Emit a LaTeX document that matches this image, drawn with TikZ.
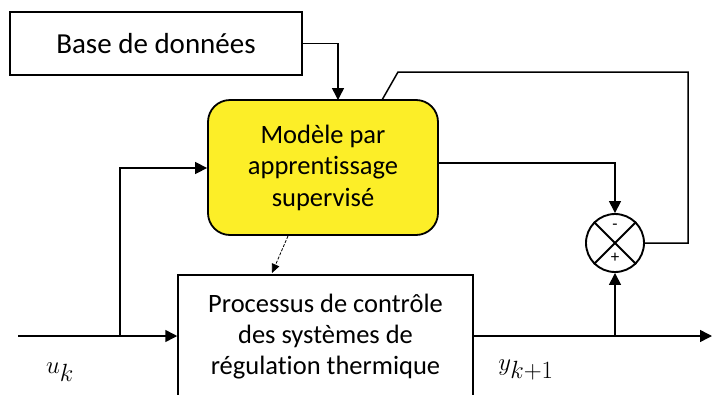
\documentclass[tikz,border=0pt]{standalone}
\usepackage{fontspec}
\setmainfont{Carlito}[Ligatures=NoCommon]
\usepackage{amsmath}
\usepackage{tikz}
\usepackage{xcolor}
\usetikzlibrary{arrows.meta}
\definecolor{modelyellow}{RGB}{252,238,40}
\tikzset{
    plain-box/.style = {draw=black, fill=white, line width=1.5pt, rectangle, inner sep=0pt, align=center},
    model-box/.style = {draw=black, fill=modelyellow, line width=1.8pt, rectangle, rounded corners=22pt, inner sep=0pt, align=center},
    sum-node/.style = {draw=black, circle, line width=1.9pt, minimum size=58pt, inner sep=0pt},
    flow-arrow/.style = {line width=1.5pt, -{Triangle[length=12pt,width=12pt]}},
    flow-line/.style = {line width=1.5pt},
    hint-arrow/.style = {line width=0.8pt, dashed, dash pattern=on 3pt off 1.5pt, -{Triangle[length=9pt,width=8pt]}},
    signal-label/.style = {font=\fontsize{33}{33}\selectfont},
}

\begin{document}
\begin{tikzpicture}[x=1pt,y=-1pt]
\useasboundingbox (0,0) rectangle (712,394);
\node [plain-box, minimum width=292pt, minimum height=63pt, font=\fontsize{29}{34}\selectfont] (base) at (156,43.5) {Base de donn\'ees};
\node [model-box, minimum width=230pt, minimum height=135pt, font=\fontsize{26.5}{31.5}\selectfont] (model) at (323,167.5) {Mod\`ele par\\apprentissage\\supervis\'e};
\node [plain-box, minimum width=295pt, minimum height=124pt, font=\fontsize{26.5}{31}\selectfont] (proc) at (325.5,337) {Processus de contr\^ole\\des syst\`emes de\\r\'egulation thermique};
\node [sum-node] (sum) at (615,243) {};
\draw [line width=1.9pt] (sum.north east) -- (sum.south west);
\draw [line width=1.9pt] (sum.north west) -- (sum.south east);
\node [font=\fontsize{17}{17}\selectfont] (minus) at (615,227) {-};
\node [font=\fontsize{17}{17}\selectfont] (plus) at (615,258) {+};

% input and output
\coordinate (in) at (18,336);
\coordinate (split-in) at (120,336);
\coordinate (out) at (712,336);
\coordinate (split-out) at (615,336);
\draw [flow-arrow] (in) -- (proc.west |- in);
\draw [flow-arrow] (split-in) |- (model.west |- 0,168);
\draw [flow-arrow] (proc.east |- out) -- (out);
\draw [flow-arrow] (split-out) -- (sum.south);

% model links
\draw [flow-arrow] (base.east) -| (338,100);
\draw [flow-arrow] (model.east |- 0,163) -| (sum.north);
\draw [hint-arrow] (288,236) -- (272,273);
\coordinate (fb) at (382,100);
\draw [flow-line] (fb) -- (398,72) -| (688,243) -- (sum.east);

\node [signal-label] (u) at (60,372) {$u_k$};
\node [signal-label] (y) at (526,370) {$y_{k+1}$};
\end{tikzpicture}
\end{document}
